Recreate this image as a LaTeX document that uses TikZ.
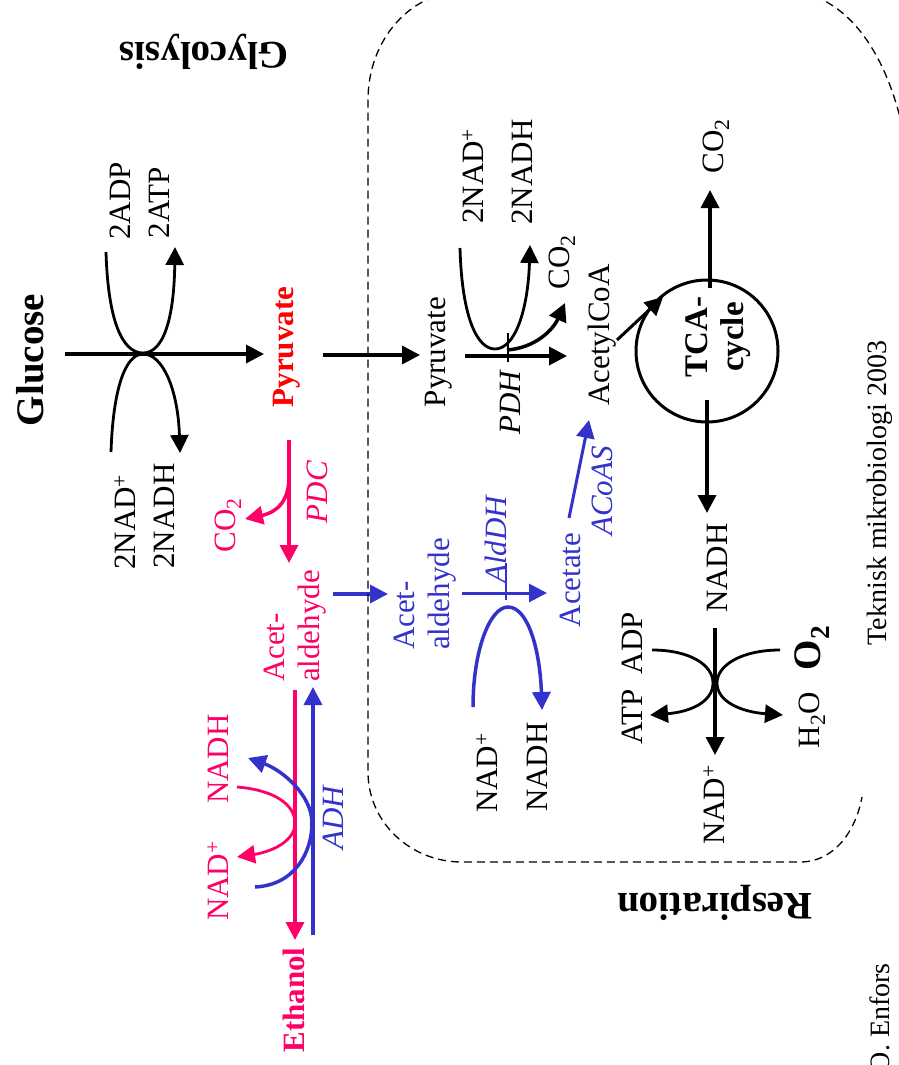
\documentclass[tikz,border=0pt]{standalone}
\usepackage{fontspec}
\setmainfont{Liberation Serif}
\usetikzlibrary{arrows.meta}
\definecolor{pinkred}{RGB}{255,0,102}
\definecolor{rxblue}{RGB}{51,51,204}
\definecolor{pyrred}{RGB}{255,0,0}
\begin{document}
\begin{tikzpicture}[x=1pt,y=-1pt,
  lbl/.style={inner sep=0pt, rotate=90, font=\fontsize{31}{35}\selectfont},
  ilbl/.style={inner sep=0pt, rotate=90, font=\fontsize{31}{35}\selectfont\itshape},
  blbl/.style={inner sep=0pt, rotate=90, font=\fontsize{31}{35}\selectfont\bfseries},
  head/.style={inner sep=0pt, font=\fontsize{39}{44}\selectfont\bfseries},
  small/.style={inner sep=0pt, rotate=90, font=\fontsize{28}{32}\selectfont},
  tip/.style={-{Triangle[length=18pt,width=18pt]}},
  arr/.style={line width=3.5pt, tip},
  crv/.style={line width=2.8pt, tip},
  border/.style={line width=1.3pt, dash pattern=on 8pt off 5pt}
]
\useasboundingbox (0,0) rectangle (899,1065);

% ---------- headings ----------
\node[head, rotate=90] (glucose) at (30,360) {Glucose};
\node[head, rotate=180] (glycolysis) at (204,52) {Glycolysis};
\node[head, rotate=180] (respiration) at (715,903) {Respiration};

% ---------- glycolysis ----------
\node[blbl, text=pyrred] (pyr1) at (287,347) {Pyruvate};
\node[lbl] (adp1) at (120,201) {2ADP};
\node[lbl] (atp1) at (159,203) {2ATP};
\node[lbl] (nad1) at (125,522) {2NAD\textsuperscript{+}};
\node[lbl] (nadh1) at (164,516) {2NADH};
\coordinate (gA) at (65,354);
\coordinate (gB) at (264,354);
\draw[arr] (gA) -- (gB);
\coordinate (u1s) at (106,252);
\coordinate (u1m) at (143,353);
\coordinate (u1e) at (175,247);
\draw[crv] (u1s) .. controls (108,320) and (122,353) .. (u1m) .. controls (163,353) and (174,320) .. (u1e);
\coordinate (l1s) at (111,452);
\coordinate (l1m) at (143,354);
\coordinate (l1e) at (180,453);
\draw[crv] (l1s) .. controls (113,390) and (125,354) .. (l1m) .. controls (163,354) and (178,390) .. (l1e);

% ---------- transport ----------
\coordinate (tA) at (323,355);
\coordinate (tB) at (420,355);
\draw[arr] (tA) -- (tB);

% ---------- PDH ----------
\node[lbl] (pyr2) at (439,352) {Pyruvate};
\node[ilbl] (pdh) at (510,403) {PDH};
\node[lbl] (nad2) at (473,176) {2NAD\textsuperscript{+}};
\node[lbl] (nadh2) at (522,172) {2NADH};
\node[lbl] (co2a) at (562,262) {CO\textsubscript{2}};
\node[lbl] (acoa) at (602,335) {AcetylCoA};
\coordinate (pA) at (465,356);
\coordinate (pB) at (567,356);
\draw[arr] (pA) -- (pB);
\coordinate (pt1) at (508,333);
\coordinate (pt2) at (508,362);
\draw[line width=2.5pt] (pt1) -- (pt2);
\coordinate (u2s) at (460,248);
\coordinate (u2m) at (495,349);
\coordinate (u2e) at (530,245);
\draw[crv] (u2s) .. controls (462,320) and (478,349) .. (u2m) .. controls (515,349) and (528,310) .. (u2e);
\coordinate (c2s) at (507,350);
\coordinate (c2e) at (565,303);
\draw[arr] (c2s) .. controls (535,348) and (553,330) .. (c2e);

% ---------- TCA ----------
\node[draw, circle, line width=3pt, minimum size=142pt, inner sep=0pt] (tcac) at (707,351) {};
\node[inner sep=0pt, rotate=90, font=\fontsize{33}{36}\selectfont\bfseries, align=center] (tca) at (718,337) {TCA-\\cycle};
\coordinate (aA) at (617,340);
\coordinate (aB) at (663,297);
\draw[line width=3pt, tip] (aA) -- (aB);
\node[lbl] (co2b) at (716,146) {CO\textsubscript{2}};
\coordinate (cuA) at (710,288);
\coordinate (cuB) at (710,190);
\draw[arr] (cuA) -- (cuB);
\node[lbl] (nadh3) at (717,568) {NADH};
\coordinate (cdA) at (707,400);
\coordinate (cdB) at (707,513);
\draw[arr] (cdA) -- (cdB);

% ---------- respiration chain ----------
\node[lbl] (atp2) at (632,717) {ATP};
\node[lbl] (adp2) at (632,643) {ADP};
\node[lbl] (nad3) at (714,805) {NAD\textsuperscript{+}};
\node[lbl] (h2o) at (812,720) {H\textsubscript{2}O};
\node[inner sep=0pt, rotate=90, font=\fontsize{39}{44}\selectfont\bfseries] (o2) at (812,648) {O\textsubscript{2}};
\coordinate (rA) at (715,628);
\coordinate (rB) at (715,755);
\draw[arr] (rA) -- (rB);
\coordinate (rls) at (652,650);
\coordinate (rlm) at (713,683);
\coordinate (rle) at (650,715);
\draw[crv] (rls) .. controls (690,650) and (713,665) .. (rlm) .. controls (713,702) and (690,712) .. (rle);
\coordinate (rrs) at (780,650);
\coordinate (rrm) at (717,683);
\coordinate (rre) at (783,715);
\draw[crv] (rrs) .. controls (742,650) and (717,665) .. (rrm) .. controls (717,702) and (742,712) .. (rre);

% ---------- fermentation (red) ----------
\node[lbl, text=pinkred] (co2c) at (228,525) {CO\textsubscript{2}};
\node[ilbl, text=pinkred] (pdc) at (317,492) {PDC};
\node[lbl, text=pinkred, align=left] (acet1) at (295,626) {Acet-\\aldehyde};
\node[blbl, text=pinkred] (ethanol) at (294,1000) {Ethanol};
\node[lbl, text=pinkred] (nad4) at (218,881) {NAD\textsuperscript{+}};
\node[lbl, text=pinkred] (nadh4) at (218,759) {NADH};
\node[ilbl, text=rxblue] (adh) at (333,818) {ADH};
\coordinate (fA) at (289,440);
\coordinate (fB) at (289,563);
\draw[arr, pinkred] (fA) -- (fB);
\coordinate (fc1) at (289,477);
\coordinate (fc2) at (245,519);
\draw[arr, pinkred] (fc1) .. controls (289,500) and (278,512) .. (fc2);
\coordinate (eA) at (295,690);
\coordinate (eB) at (295,940);
\draw[arr, pinkred] (eA) -- (eB);
\coordinate (eC) at (313,935);
\coordinate (eD) at (313,687);
\draw[arr, rxblue] (eC) -- (eD);
\coordinate (pks) at (237,787);
\coordinate (pkm) at (295,823);
\coordinate (pke) at (237,857);
\draw[crv, pinkred] (pks) .. controls (275,790) and (295,805) .. (pkm) .. controls (295,842) and (270,852) .. (pke);
\coordinate (bls) at (255,887);
\coordinate (blm) at (312,823);
\coordinate (ble) at (248,758);
\draw[arr, rxblue] (bls) .. controls (295,885) and (312,852) .. (blm) .. controls (312,795) and (282,770) .. (ble);

% ---------- blue pathway ----------
\node[lbl, text=rxblue, align=left] (acet2) at (425,594) {Acet-\\aldehyde};
\node[ilbl, text=rxblue] (aldh) at (496,540) {AldDH};
\node[lbl] (nad5) at (487,773) {NAD\textsuperscript{+}};
\node[lbl] (nadh5) at (537,767) {NADH};
\node[lbl, text=rxblue] (acetate) at (570,580) {Acetate};
\node[ilbl, text=rxblue] (acoas) at (602,491) {ACoAS};
\coordinate (bA) at (333,594);
\coordinate (bB) at (388,594);
\draw[arr, rxblue] (bA) -- (bB);
\coordinate (dA) at (462,593);
\coordinate (dB) at (547,593);
\draw[line width=3pt, tip, rxblue] (dA) -- (dB);
\coordinate (dt1) at (506,563);
\coordinate (dt2) at (506,600);
\draw[line width=2.5pt, rxblue] (dt1) -- (dt2);
\coordinate (bus) at (473,707);
\coordinate (bum) at (508,607);
\coordinate (bue) at (542,710);
\draw[arr, rxblue] (bus) .. controls (473,650) and (490,607) .. (bum) .. controls (528,607) and (540,650) .. (bue);
\coordinate (sA) at (569,518);
\coordinate (sB) at (589,420);
\draw[line width=3pt, tip, rxblue] (sA) -- (sB);

% ---------- dashed compartment ----------
\coordinate (k1) at (905,140);
\coordinate (k2) at (780,-10);
\coordinate (k3) at (470,-10);
\coordinate (k4) at (368,100);
\coordinate (k5) at (368,772);
\coordinate (k6) at (462,862);
\coordinate (k7) at (800,862);
\coordinate (k8) at (862,797);
\draw[border] (k1) .. controls (890,60) and (850,-10) .. (k2) -- (k3) .. controls (410,-10) and (368,40) .. (k4) -- (k5) .. controls (368,822) and (410,862) .. (k6) -- (k7) .. controls (835,862) and (856,830) .. (k8);

% ---------- credits ----------
\node[small] (teknisk) at (880,493) {Teknisk mikrobiologi 2003};
\node[small, anchor=east] (enfors) at (880,963) {O. Enfors};
\end{tikzpicture}
\end{document}
